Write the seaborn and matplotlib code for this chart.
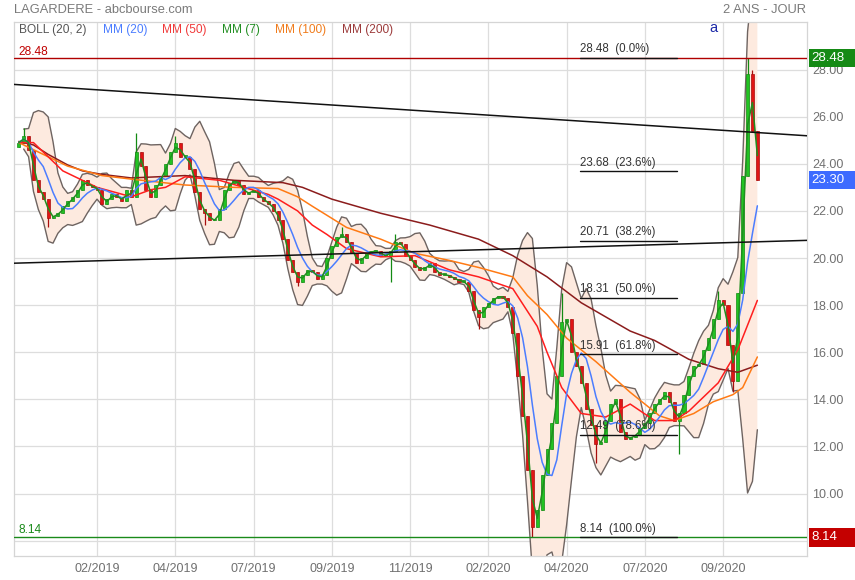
import numpy as np
import pandas as pd
import matplotlib
matplotlib.use("Agg")
import matplotlib.pyplot as plt
import matplotlib.transforms as mtransforms
from matplotlib.patches import Rectangle
import seaborn as sns

# --- data (one candle ~ 3 trading days) ---
first_open = 24.7
closes = [24.9, 25.2, 24.6, 23.3, 22.8, 22.5, 21.7, 21.8, 21.9, 22.2,
          22.4, 22.6, 22.9, 23.3, 23.1, 23.0, 22.9, 22.3, 22.5, 22.7,
          22.6, 22.4, 22.9, 22.6, 24.5, 23.9, 22.9, 22.6, 23.1, 23.5,
          24.0, 24.5, 24.9, 24.3, 24.3, 23.8, 22.8, 22.1, 21.9, 21.6,
          21.6, 22.1, 22.9, 23.2, 23.3, 23.1, 22.7, 22.8, 22.9, 22.6,
          22.4, 22.3, 22.0, 21.6, 20.8, 19.9, 19.4, 19.0, 19.3, 19.5,
          19.4, 19.1, 19.3, 20.0, 20.5, 20.9, 21.0, 20.7, 20.2, 19.8,
          20.0, 20.2, 20.3, 20.3, 20.1, 20.1, 20.3, 20.7, 20.6, 20.1,
          19.9, 19.6, 19.5, 19.6, 19.8, 19.4, 19.3, 19.3, 19.2, 19.1,
          19.0, 19.0, 18.6, 17.8, 17.5, 17.9, 18.1, 18.3, 18.4, 18.3,
          17.9, 16.8, 15.0, 13.3, 11.0, 8.6, 9.3, 10.8, 11.9, 13.0,
          15.0, 17.3, 17.4, 16.0, 15.4, 14.7, 13.6, 12.9, 12.1, 12.2,
          13.1, 13.8, 14.0, 12.6, 12.3, 12.4, 12.5, 12.8, 13.0, 13.4,
          13.8, 14.0, 14.3, 13.9, 13.1, 13.4, 14.2, 15.0, 15.4, 15.5,
          16.1, 16.6, 17.4, 18.2, 18.0, 16.3, 14.8, 18.5, 23.5, 27.8,
          25.4, 23.3]
wick_high = {1: 25.5, 24: 25.3, 32: 25.2, 66: 21.3, 77: 21.0, 111: 18.5,
             143: 18.6, 149: 28.48, 150: 28.0}
wick_low = {6: 21.3, 38: 21.4, 57: 18.8, 76: 19.0, 94: 17.0, 105: 8.14,
            118: 11.3, 135: 11.7, 146: 14.3}

# long moving averages (candle index, value)
mm50_idx = [0, 3, 9, 16, 23, 27, 30, 34, 41, 51, 53, 57, 60, 63, 67, 74, 81,
            88, 94, 101, 106, 108, 111, 115, 120, 125, 130, 134, 137, 143, 147, 151]
mm50_val = [24.9, 24.9, 23.7, 23.0, 22.6, 22.9, 23.0, 23.45, 23.3, 22.7, 22.5,
            22.0, 21.4, 21.0, 20.4, 20.05, 20.1, 19.5, 19.2, 18.7, 17.1, 16.0,
            14.5, 13.4, 13.25, 13.8, 13.1, 13.1, 13.5, 14.7, 16.1, 18.2]
mm100_idx = [0, 10, 17, 23, 34, 44, 53, 57, 60, 67, 74, 81, 88, 94, 101, 104,
             108, 112, 118, 125, 131, 134, 138, 142, 146, 148, 151]
mm100_val = [24.9, 23.9, 23.5, 23.35, 23.1, 23.0, 22.95, 22.6, 22.2, 21.3, 20.8,
             20.2, 19.9, 19.6, 19.2, 18.4, 17.6, 16.6, 15.6, 14.3, 13.3, 13.1,
             13.4, 13.9, 14.2, 14.5, 15.8]
mm200_idx = [0, 3, 6, 10, 13, 17, 23, 34, 44, 54, 58, 64, 74, 84, 94, 101,
             108, 115, 125, 130, 137, 143, 147, 151]
mm200_val = [24.95, 24.8, 24.4, 23.95, 23.7, 23.55, 23.4, 23.5, 23.3, 23.2, 23.0,
             22.5, 21.9, 21.4, 20.8, 20.1, 19.2, 18.1, 16.9, 16.5, 15.7, 15.3,
             15.15, 15.45]

fib_high, fib_low = 28.48, 8.14
fib_ratios = [0.0, 0.236, 0.382, 0.5, 0.618, 0.786, 1.0]
trend_down = (27.37, 25.19)   # value at left / right edge
trend_up = (19.78, 20.75)

tick_labels = ["02/2019", "04/2019", "07/2019", "09/2019", "11/2019",
               "02/2020", "04/2020", "07/2020", "09/2020"]
tick_every = 16
last_price = 23.30

# --- derived series ---
df = pd.DataFrame({"close": closes})
df["idx"] = np.arange(len(df))
df["open"] = [first_open] + closes[:-1]
df["high"] = df[["open", "close"]].max(axis=1)
df["low"] = df[["open", "close"]].min(axis=1)
for k, v in wick_high.items():
    df.loc[k, "high"] = v
for k, v in wick_low.items():
    df.loc[k, "low"] = v
df["mm7"] = df["close"].rolling(2, min_periods=1).mean()
df["mm20"] = df["close"].rolling(6, min_periods=1).mean()
std = df["close"].rolling(6, min_periods=2).std()
df["bb_up"] = df["mm20"] + 2 * std
df["bb_lo"] = df["mm20"] - 2 * std

sns.set_style("white")
plt.rcParams["font.family"] = ["Liberation Sans", "DejaVu Sans"]

fig = plt.figure(figsize=(8.55, 5.8), dpi=100)
ax = fig.add_axes([14 / 855, 24 / 580, 793 / 855, 534 / 580])
xmin, xmax = -0.98, 161.15
ax.set_xlim(xmin, xmax)
ax.set_ylim(7.35, 30.02)

# grid
for y in range(8, 30, 2):
    ax.axhline(y, color="#dddddd", lw=0.9, zorder=0)
ticks = list(range(tick_every, tick_every * len(tick_labels) + 1, tick_every))
for t in ticks:
    ax.axvline(t, color="#dddddd", lw=0.9, zorder=0)

# bollinger
ax.fill_between(df["idx"], df["bb_lo"], df["bb_up"], color="#fdeadf", lw=0, zorder=1)
for col in ["bb_up", "bb_lo"]:
    sns.lineplot(x=df["idx"], y=df[col], ax=ax, color="#6e6461", lw=1.0,
                 estimator=None, sort=False, legend=False, zorder=2)

# candles
up = df["close"] >= df["open"]
colors = np.where(up, "#22c322", "#e01515")
edges = np.where(up, "#138a13", "#a80d0d")
ax.vlines(df["idx"], df["low"], df["high"], colors=edges, lw=0.9, zorder=3)
ax.bar(df["idx"], (df["close"] - df["open"]).abs().clip(lower=0.06),
       bottom=df[["open", "close"]].min(axis=1), width=0.62,
       color=colors, edgecolor=edges, linewidth=0.5, zorder=4)

# moving averages
sns.lineplot(x=mm200_idx, y=mm200_val, ax=ax, color="#8b1c1c", lw=1.1, legend=False, zorder=5)
sns.lineplot(x=mm100_idx, y=mm100_val, ax=ax, color="#ff7a14", lw=1.1, legend=False, zorder=5)
sns.lineplot(x=mm50_idx, y=mm50_val, ax=ax, color="#ff1e1e", lw=1.1, legend=False, zorder=5)
sns.lineplot(x=df["idx"], y=df["mm20"], ax=ax, color="#4b7dff", lw=1.1,
             estimator=None, legend=False, zorder=5)
sns.lineplot(x=df["idx"], y=df["mm7"], ax=ax, color="#1f8f1f", lw=1.1,
             estimator=None, legend=False, zorder=6)

# horizontal extremes and trend lines
ax.axhline(fib_high, color="#b00000", lw=1.0, zorder=6)
ax.axhline(fib_low, color="#1a8a1a", lw=1.0, zorder=6)
ax.plot([xmin, xmax], trend_down, color="#111111", lw=1.1, zorder=7)
ax.plot([xmin, xmax], trend_up, color="#111111", lw=1.1, zorder=7)

# fibonacci retracement
fx0, fx1 = 114.8, 134.6
for r in fib_ratios:
    lvl = fib_high - r * (fib_high - fib_low)
    ax.plot([fx0, fx1], [lvl, lvl], color="#111111", lw=1.0, zorder=7)
    ax.text(fx0, lvl + 0.12, f"{lvl:.2f}  ({r * 100:.1f}%)", fontsize=8.3,
            color="#333333", ha="left", va="bottom", zorder=8)

# axes styling
yt = np.arange(8, 30, 2)
ax.set_xticks(ticks)
ax.set_xticklabels(tick_labels)
ax.set_yticks(yt)
ax.set_yticklabels(["" if v == 8 else f"{v:.2f}" for v in yt])
ax.yaxis.tick_right()
ax.tick_params(axis="both", length=0, labelsize=9, colors="#707070")
ax.tick_params(axis="y", pad=4)
ax.tick_params(axis="x", pad=5)
ax.set_xlabel("")
ax.set_ylabel("")
for s in ax.spines.values():
    s.set_color("#d5d5d5")
    s.set_linewidth(0.9)

# price boxes on the right (to the figure edge)
blend = mtransforms.blended_transform_factory(fig.transFigure, ax.transData)
box_h = 0.78
for val, fc in [(fib_high, "#158a15"), (last_price, "#3d6bff"), (fib_low, "#c40000")]:
    fig.patches.append(Rectangle((809 / 855, val - box_h / 2), 46 / 855, box_h,
                                 transform=blend, fc=fc, ec="none", zorder=20))
    fig.text(811 / 855, val, f"{val:.2f}", transform=blend, fontsize=9.5,
             color="white", va="center", ha="left", zorder=21)

# legend row and side labels
legend = [("BOLL (20, 2)", "#555555", 19), ("MM (20)", "#4b7dff", 103),
          ("MM (50)", "#f03a3a", 162), ("MM (7)", "#238f23", 222),
          ("MM (100)", "#f07c1c", 275), ("MM (200)", "#9c3b3b", 342)]
for txt, c, px in legend:
    fig.text(px / 855, 1 - 30 / 580, txt, fontsize=8.6, color=c, va="center")
fig.text(18 / 855, 1 - 52 / 580, f"{fib_high:.2f}", fontsize=8.6, color="#c00000", va="center")
fig.text(18 / 855, 1 - 530 / 580, f"{fib_low:.2f}", fontsize=8.6, color="#1a8a1a", va="center")
fig.text(14 / 855, 1 - 10 / 580, "LAGARDERE - abcbourse.com", fontsize=9.3,
         color="#7a7a7a", va="center")
fig.text(806 / 855, 1 - 10 / 580, "2 ANS - JOUR", fontsize=9.3,
         color="#7a7a7a", va="center", ha="right")
fig.text(709 / 855, 1 - 28 / 580, "a", fontsize=10.5, color="#1d2aa8", va="center")

fig.savefig("out.png", dpi=100)
